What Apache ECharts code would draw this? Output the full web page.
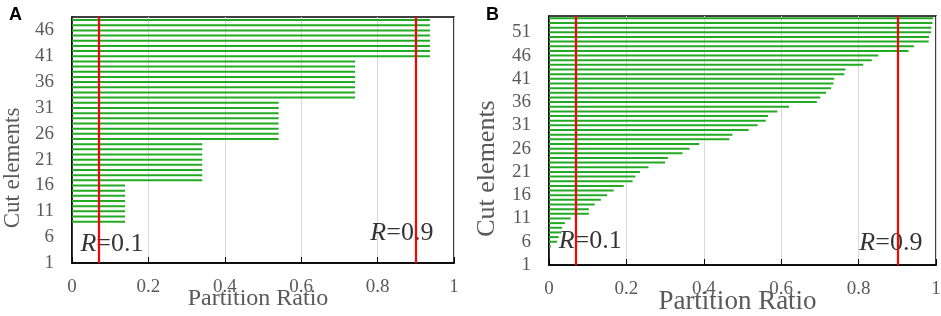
<!DOCTYPE html>
<html>
<head>
<meta charset="utf-8">
<script src="https://cdn.jsdelivr.net/npm/echarts@6/dist/echarts.min.js"></script>
<style>
html,body{margin:0;padding:0;background:#fff;}
#chart{width:941px;height:316px;}
</style>
</head>
<body>
<div id="chart"></div>
<script>
// ---- Data ----
const elementsA = [9,10,11,12,13,14,15,16,17,18,19,20,21,22,23,24,25,26,27,28,29,30,31,32,33,34,35,36,37,38,39,40,41,42,43,44,45,46,47,48];
const ratiosA = [
  0.139,0.139,0.139,0.139,0.139,0.139,0.139,0.139,
  0.341,0.341,0.341,0.341,0.341,0.341,0.341,0.341,
  0.541,0.541,0.541,0.541,0.541,0.541,0.541,0.541,
  0.741,0.741,0.741,0.741,0.741,0.741,0.741,0.741,
  0.937,0.937,0.937,0.937,0.937,0.937,0.937,0.937
];
const elementsB = [5,6,7,8,9,10,11,12,13,14,15,16,17,18,19,20,21,22,23,24,25,26,27,28,29,30,31,32,33,34,35,36,37,38,39,40,41,42,43,44,45,46,47,48,49,50,51,52,53,54];
const ratiosB = [
  0.005,0.021,0.025,0.032,0.034,0.041,0.056,0.103,0.103,0.118,
  0.134,0.150,0.167,0.193,0.216,0.223,0.235,0.257,0.300,0.307,
  0.345,0.363,0.388,0.466,0.474,0.516,0.539,0.560,0.566,0.590,
  0.620,0.692,0.701,0.716,0.729,0.735,0.737,0.763,0.766,0.812,
  0.834,0.851,0.929,0.943,0.981,0.982,0.987,0.988,0.991,0.993
];
const thresholdsA = [0.068, 0.896];
const thresholdsB = [0.071, 0.897];
const thresholdLabels = ['0.1', '0.9'];
const yTickLabelsA = [1,6,11,16,21,26,31,36,41,46];
const yTickLabelsB = [1,6,11,16,21,26,31,36,41,46,51];
const xTickValues = [0,0.2,0.4,0.6,0.8,1];
const panelLabels = ['A', 'B'];
const xAxisTitle = 'Partition Ratio';
const yAxisTitle = 'Cut elements';

// ---- Styles ----
const SERIF = '"Liberation Serif", "Times New Roman", Times, serif';
const SANS = '"Liberation Sans", Arial, Helvetica, sans-serif';
const GREY = '#595959';
const GREEN = '#22aa22';

function pairs(xs, ys) { return xs.map((x, i) => [x, ys[i]]); }

function hLines(idx, elems, ratios) {
  return {
    type: 'custom', xAxisIndex: idx, yAxisIndex: idx, z: 2,
    data: pairs(ratios, elems),
    renderItem: function (params, api) {
      const y = api.value(1), x = api.value(0);
      const p0 = api.coord([0, y]);
      const p1 = api.coord([x, y]);
      return { type: 'line', shape: { x1: p0[0], y1: p0[1], x2: p1[0], y2: p1[1] },
               style: { stroke: GREEN, lineWidth: 2 } };
    }
  };
}

function redLines(idx, th) {
  return {
    type: 'line', xAxisIndex: idx, yAxisIndex: idx, data: [], z: 6,
    markLine: {
      silent: true, symbol: ['none', 'none'], animation: false,
      label: { show: false },
      lineStyle: { color: '#ff0000', width: 2.2, type: 'solid' },
      data: th.map(v => ({ xAxis: v }))
    }
  };
}

function annot(idx, pts) {
  return {
    type: 'scatter', xAxisIndex: idx, yAxisIndex: idx, z: 4,
    symbolSize: 0, silent: true,
    data: pts.map(p => ({ value: [p[0], p[1]], name: p[2] })),
    label: {
      show: true, position: 'right', distance: 0,
      formatter: p => '{i|R}{n|=' + p.name + '}',
      rich: {
        i: { fontFamily: SERIF, fontStyle: 'italic', fontSize: 26, color: '#000' },
        n: { fontFamily: SERIF, fontSize: 26, color: '#000' }
      }
    }
  };
}

function xAx(idx, nameSize, gap) {
  return {
    gridIndex: idx, type: 'value', min: 0, max: 1, interval: 0.2,
    axisLine: { show: true, onZero: false, lineStyle: { color: '#000', width: 1.5 } },
    axisTick: { show: true, inside: true, length: 6, lineStyle: { color: '#000', width: 1 } },
    splitLine: { show: true, lineStyle: { color: '#d9d9d9', width: 1 } },
    axisLabel: { color: GREY, fontFamily: SERIF, fontSize: 19, margin: 15,
                 customValues: xTickValues },
    name: xAxisTitle, nameLocation: 'middle', nameGap: gap, nameMoveOverlap: false,
    nameTextStyle: { color: GREY, fontFamily: SERIF, fontSize: nameSize, padding: [0, 10, 0, 0] }
  };
}

function yAx(idx, max, ticks, nameSize, gap) {
  return {
    gridIndex: idx, type: 'value', min: 1, max: max,
    axisLine: { show: true, onZero: false, lineStyle: { color: '#000', width: 1.5 } },
    axisTick: { show: false },
    splitLine: { show: false },
    axisLabel: { color: GREY, fontFamily: SERIF, fontSize: 19, margin: 18, customValues: ticks },
    name: yAxisTitle, nameLocation: 'middle', nameGap: gap, nameMoveOverlap: false,
    nameTextStyle: { color: GREY, fontFamily: SERIF, fontSize: nameSize, padding: [0, 56, 0, 0] }
  };
}

const chart = echarts.init(document.getElementById('chart'), null, { renderer: 'canvas' });
chart.setOption({
  animation: false,
  backgroundColor: '#fff',
  title: [
    { text: panelLabels[0], left: 4, top: 1, textStyle: { fontFamily: SANS, fontWeight: 'bold', fontSize: 18, color: '#000' } },
    { text: panelLabels[1], left: 481, top: 1, textStyle: { fontFamily: SANS, fontWeight: 'bold', fontSize: 18, color: '#000' } }
  ],
  grid: [
    { left: 72, right: 487, top: 17, bottom: 53, show: true, borderColor: '#000', borderWidth: 1.5,
      containLabel: false, outerBoundsMode: 'none' },
    { left: 549, right: 5, top: 16, bottom: 51, show: true, borderColor: '#000', borderWidth: 1.5,
      containLabel: false, outerBoundsMode: 'none' }
  ],
  xAxis: [ xAx(0, 24, 24), xAx(1, 27, 23) ],
  yAxis: [ yAx(0, 48.6, yTickLabelsA, 23, 48), yAx(1, 54.5, yTickLabelsB, 26, 49) ],
  series: [
    hLines(0, elementsA, ratiosA),
    hLines(1, elementsB, ratiosB),
    annot(0, [[0.022, 4.6, thresholdLabels[0]], [0.781, 6.8, thresholdLabels[1]]]),
    annot(1, [[0.025, 6.2, thresholdLabels[0]], [0.802, 5.7, thresholdLabels[1]]]),
    redLines(0, thresholdsA),
    redLines(1, thresholdsB)
  ]
});
</script>
</body>
</html>
